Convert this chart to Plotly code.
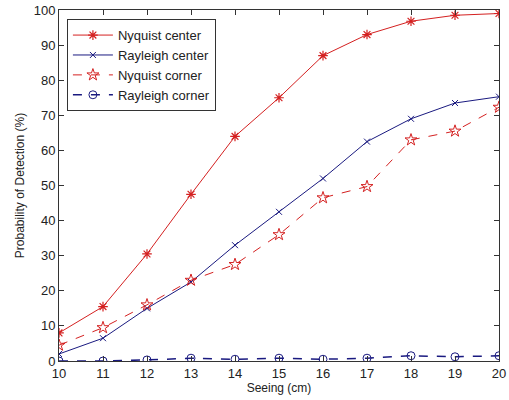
import plotly.graph_objects as go

seeing = [10, 11, 12, 13, 14, 15, 16, 17, 18, 19, 20]
nyquist_center = [8, 15.5, 30.5, 47.5, 64, 75, 87, 93, 96.8, 98.5, 99]
rayleigh_center = [2, 6.5, 15, 22.5, 33, 42.5, 52, 62.5, 69, 73.5, 75.3]
nyquist_corner = [4.5, 9.5, 16, 23, 27.5, 36, 46.5, 49.7, 63, 65.5, 72.3]
rayleigh_corner = [0, 0, 0.3, 0.8, 0.5, 0.8, 0.5, 0.8, 1.5, 1.2, 1.5]

red = "#d42020"
blue = "#1a1a80"
font_family = "Liberation Sans, Arial"

fig = go.Figure()
fig.add_trace(go.Scatter(x=seeing, y=nyquist_center, name="Nyquist center", mode="lines+markers",
                         line=dict(color=red, width=1),
                         marker=dict(symbol="asterisk-open", size=8, color=red, line=dict(width=1.2, color=red))))
fig.add_trace(go.Scatter(x=seeing, y=rayleigh_center, name="Rayleigh center", mode="lines+markers",
                         line=dict(color=blue, width=1),
                         marker=dict(symbol="x-thin-open", size=6, color=blue, line=dict(width=1, color=blue))))
fig.add_trace(go.Scatter(x=seeing, y=nyquist_corner, name="Nyquist corner", mode="lines+markers",
                         line=dict(color=red, width=1, dash="dash"),
                         marker=dict(symbol="star-open", size=9, color=red, line=dict(width=1, color=red))))
fig.add_trace(go.Scatter(x=seeing, y=rayleigh_corner, name="Rayleigh corner", mode="lines+markers",
                         line=dict(color=blue, width=1.5, dash="dash"),
                         marker=dict(symbol="circle-open", size=8, color=blue, line=dict(width=1, color=blue))))

axis_common = dict(showline=True, linecolor="#333333", linewidth=1, mirror="ticks",
                   ticks="inside", ticklen=5, tickcolor="#333333", showgrid=False, zeroline=False,
                   ticklabeloverflow="allow",
                   tickfont=dict(family=font_family, size=13, color="#222222"))

fig.update_xaxes(range=[10, 20], tickvals=seeing, ticktext=[str(v) for v in seeing],
                 title=dict(text="Seeing (cm)", font=dict(family=font_family, size=12, color="#222222"), standoff=2),
                 **axis_common)
fig.update_yaxes(range=[0, 100], tickvals=list(range(0, 101, 10)),
                 title=dict(text="Probability of Detection (%)", font=dict(family=font_family, size=12, color="#222222"), standoff=6),
                 **axis_common)

fig.update_layout(
    width=509, height=400,
    margin=dict(l=59, r=3, t=9, b=39),
    plot_bgcolor="white", paper_bgcolor="white",
    showlegend=True,
    legend=dict(x=0.018, y=0.974, xanchor="left", yanchor="top",
                bgcolor="white", bordercolor="#333333", borderwidth=1,
                font=dict(family=font_family, size=13, color="#222222"),
                tracegroupgap=0, itemwidth=40),
)

fig.write_html("out.html", config={"displayModeBar": False},
               post_script="document.body.style.margin='0';document.body.style.padding='0';")
